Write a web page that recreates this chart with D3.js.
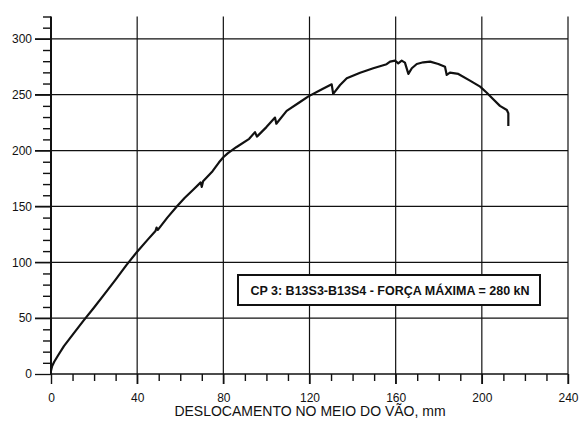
<!DOCTYPE html>
<html>
<head>
<meta charset="utf-8">
<script src="https://cdn.jsdelivr.net/npm/d3@7"></script>
<style>
  html, body { margin: 0; padding: 0; background: #fff; }
  svg { display: block; }
  text { font-family: "Liberation Sans", Arial, sans-serif; fill: #111; }
</style>
</head>
<body>
<svg id="chart" width="579" height="421"></svg>
<script>
// ---- data ----
const displacement = [0, 0.5, 1.5, 3.4, 6, 10, 15, 20, 25, 30, 35, 40, 45, 48.5, 49, 49.6, 54, 58.4, 62, 66, 69.5, 70, 70.6, 75, 78, 80, 82, 86, 92, 94.7, 95.6, 100, 104, 104.6, 109.4, 115.6, 119.5, 124.9, 130.3, 131, 134.2, 137.3, 143.5, 149.6, 155.8, 157.4, 159.7, 161.2, 162.8, 164.3, 165.9, 167.5, 169.8, 172.8, 176, 179.8, 182.9, 183.7, 185.2, 189.1, 194.5, 199.2, 202.3, 205.3, 208.4, 211.6, 212.3, 212.3];
const force =        [3, 7, 11, 17, 25, 35, 47.5, 59.5, 72, 84.5, 97.5, 109.5, 120.5, 128, 131, 129, 140, 150, 157.5, 165, 171.5, 167.5, 172.5, 181.5, 189.5, 194, 197.5, 203, 210.5, 216.5, 212.5, 221, 229.5, 224, 235.5, 243.5, 248.5, 254, 259.3, 250.7, 258.7, 264.7, 269.7, 273.7, 277.3, 279.6, 280.5, 278, 280.5, 278.7, 268.6, 273.7, 277.5, 279, 279.6, 277.5, 275, 267.7, 269.7, 268.6, 262.6, 257.2, 251.8, 245.9, 240, 236.3, 233.4, 222];
const xTicks = [0, 40, 80, 120, 160, 200, 240];
const yTicks = [0, 50, 100, 150, 200, 250, 300];
const xTitle = "DESLOCAMENTO NO MEIO DO VÃO, mm";
const legendText = "CP 3: B13S3-B13S4 - FORÇA MÁXIMA = 280 kN";

// ---- layout ----
const svg = d3.select("#chart");
const pL = 51, pR = 568, pT = 16.5, pB = 374;
const x = d3.scaleLinear().domain([0, 240]).range([pL, pR]);
const y = d3.scaleLinear().domain([0, 320]).range([pB, pT]);

svg.append("rect").attr("width", 579).attr("height", 421).attr("fill", "#fff");

// grid lines
const grid = svg.append("g").attr("stroke", "#111").attr("stroke-width", 1.2);
grid.selectAll("line.h").data(yTicks.filter(d => d > 0)).join("line").attr("class", "h")
  .attr("x1", pL - 16).attr("x2", pR)
  .attr("y1", d => y(d)).attr("y2", d => y(d));
grid.selectAll("line.v").data(xTicks.filter(d => d > 0)).join("line").attr("class", "v")
  .attr("x1", d => x(d)).attr("x2", d => x(d))
  .attr("y1", pT).attr("y2", pB + 10);

// x axis
const xAxis = d3.axisBottom(x).tickValues(xTicks).tickSize(10).tickPadding(9).tickFormat(d3.format("d"));
const gx = svg.append("g").attr("transform", `translate(0,${pB})`).call(xAxis);
gx.select(".domain").remove();
gx.selectAll(".tick line").attr("stroke", "#111").attr("stroke-width", 1.4);
gx.selectAll("text").attr("font-size", 12).attr("fill", "#111");
const xMinor = d3.axisBottom(x).tickValues(d3.range(0, 241, 10).filter(d => d % 40 !== 0)).tickSize(7).tickFormat("");
const gxm = svg.append("g").attr("transform", `translate(0,${pB})`).call(xMinor);
gxm.select(".domain").remove();
gxm.selectAll(".tick line").attr("stroke", "#111").attr("stroke-width", 1.4);
svg.append("line").attr("x1", pL).attr("x2", pR).attr("y1", pB).attr("y2", pB)
  .attr("stroke", "#111").attr("stroke-width", 1.5);

// y axis
const yAxis = d3.axisLeft(y).tickValues(yTicks).tickSize(16).tickPadding(3).tickFormat(d3.format("d"));
const gy = svg.append("g").attr("transform", `translate(${pL},0)`).call(yAxis);
gy.select(".domain").remove();
gy.selectAll(".tick line").attr("stroke", "#111").attr("stroke-width", 1.3);
gy.selectAll("text").attr("font-size", 12).attr("fill", "#111");
const yMinor = d3.axisLeft(y).tickValues(d3.range(0, 321, 10).filter(d => d % 50 !== 0)).tickSize(8).tickFormat("");
const gym = svg.append("g").attr("transform", `translate(${pL},0)`).call(yMinor);
gym.select(".domain").remove();
gym.selectAll(".tick line").attr("stroke", "#111").attr("stroke-width", 1.4);
svg.append("line").attr("x1", pL).attr("x2", pL).attr("y1", pT).attr("y2", pB)
  .attr("stroke", "#111").attr("stroke-width", 2);

// x title
svg.append("text").attr("x", 310).attr("y", 416).attr("text-anchor", "middle")
  .attr("font-size", 14).text(xTitle);

// curve
const pts = displacement.map((d, i) => [d, force[i]]);
svg.append("path").datum(pts)
  .attr("fill", "none").attr("stroke", "#111").attr("stroke-width", 2.2)
  .attr("stroke-linejoin", "round")
  .attr("d", d3.line().x(d => x(d[0])).y(d => y(d[1])));

// legend box
const lg = svg.append("g");
lg.append("rect").attr("x", 238).attr("y", 275).attr("width", 302).attr("height", 30)
  .attr("fill", "#fff").attr("stroke", "#111").attr("stroke-width", 2);
lg.append("text").attr("x", 390).attr("y", 294.5).attr("text-anchor", "middle")
  .attr("font-size", 12.5).attr("font-weight", "bold").text(legendText);
</script>
</body>
</html>
